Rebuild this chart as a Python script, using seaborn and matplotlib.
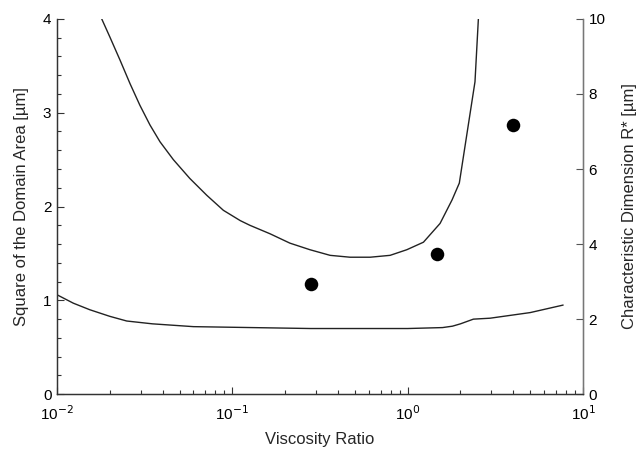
import numpy as np
import pandas as pd
import matplotlib
matplotlib.use("Agg")
import matplotlib.pyplot as plt
import seaborn as sns
from matplotlib.ticker import LogLocator, MultipleLocator

# ----------------------- Data -----------------------
upper_x = [0.0180, 0.0200, 0.0229, 0.0261, 0.0297, 0.0339, 0.0387, 0.0461, 0.0572,
           0.0715, 0.0889, 0.111, 0.126, 0.164, 0.213, 0.277, 0.361, 0.469, 0.611,
           0.794, 0.989, 1.23, 1.53, 1.79, 1.97, 2.42, 2.53]
upper_y = [4.0, 3.81, 3.56, 3.31, 3.08, 2.87, 2.69, 2.50, 2.30,
           2.12, 1.96, 1.85, 1.80, 1.71, 1.61, 1.54, 1.48, 1.46, 1.46,
           1.48, 1.54, 1.62, 1.82, 2.07, 2.25, 3.33, 4.0]

lower_x = [0.01, 0.0124, 0.0154, 0.020, 0.025, 0.035, 0.060, 0.28, 1.0,
           1.58, 1.80, 2.0, 2.37, 2.95, 5.0, 7.7]
lower_y = [1.06, 0.97, 0.90, 0.83, 0.78, 0.75, 0.72, 0.70, 0.70,
           0.71, 0.725, 0.75, 0.80, 0.81, 0.87, 0.95]

dots_x = [0.28, 1.47, 4.01]
dots_r = [2.93, 3.73, 7.17]   # characteristic dimension R* (right axis)

x_ticks = [0.01, 0.1, 1, 10]
x_tick_labels = ["10$^{-2}$", "10$^{-1}$", "10$^{0}$", "10$^{1}$"]

# ----------------------- Plot -----------------------
sns.set_theme(style="white")
plt.rcParams["font.family"] = ["Liberation Sans", "DejaVu Sans"]

fig = plt.figure(figsize=(6.4, 4.5), dpi=100)
ax = fig.add_axes([0.089, 0.124, 0.822, 0.834])

sns.lineplot(x=upper_x, y=upper_y, ax=ax, sort=False, color="#222222", linewidth=1.0)
sns.lineplot(x=lower_x, y=lower_y, ax=ax, sort=False, color="#222222", linewidth=1.0)

ax.set_xscale("log")
ax.set_xlim(0.01, 10)
ax.set_ylim(0, 4)
ax.set_xticks(x_ticks)
ax.set_xticklabels(x_tick_labels)
ax.xaxis.set_minor_locator(LogLocator(base=10, subs=np.arange(2, 10)))
ax.yaxis.set_major_locator(MultipleLocator(1))
ax.yaxis.set_minor_locator(MultipleLocator(0.2))

ax.tick_params(axis="both", which="both", direction="in", colors="#333333",
               labelcolor="black", labelsize=11)
ax.tick_params(axis="both", which="major", length=5, width=0.8)
ax.tick_params(axis="both", which="minor", length=3, width=0.8)
ax.tick_params(axis="x", which="both", bottom=True, top=False, pad=7)
ax.tick_params(axis="y", which="both", left=True, right=False, pad=4)

ax.set_xlabel("Viscosity Ratio", fontsize=12, labelpad=7)
ax.set_ylabel("Square of the Domain Area [µm]", fontsize=12, labelpad=10)

# right axis for R*
ax2 = ax.twinx()
sns.scatterplot(x=dots_x, y=dots_r, ax=ax2, color="black", s=95, edgecolor="black",
                linewidth=0)
ax2.set_ylim(0, 10)
ax2.yaxis.set_major_locator(MultipleLocator(2))
ax2.tick_params(axis="y", which="major", direction="in", length=5, width=0.8,
                colors="#555555", labelcolor="black", labelsize=11, pad=4)
ax2.set_ylabel("Characteristic Dimension R* [µm]", fontsize=12, labelpad=12)

for a in (ax, ax2):
    a.spines["top"].set_visible(False)
    for s in ("left", "bottom", "right"):
        a.spines[s].set_color("#333333")
        a.spines[s].set_linewidth(0.9)
    a.grid(False)
ax2.spines["right"].set_color("#777777")

fig.savefig("out.png", dpi=100, facecolor="white")
